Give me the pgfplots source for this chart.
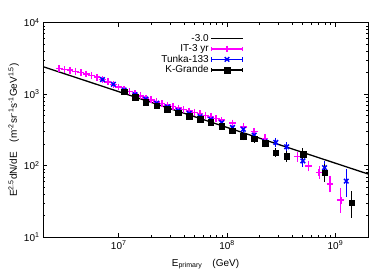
\documentclass[border=0pt]{standalone}
\usepackage{fontspec}
\setmainfont{Liberation Sans}
\usepackage{pgfplots}
\pgfplotsset{compat=1.18}
\usepackage{pgfplotstable}
\definecolor{itmag}{RGB}{255,0,255}
\definecolor{tunka}{RGB}{0,0,255}

\pgfplotstableread{
x y dp dm
2.818e6 2301 0.008 0.008
3.162e6 2223 0.008 0.008
3.548e6 2168 0.008 0.008
3.981e6 2091 0.008 0.008
4.467e6 2009 0.008 0.008
5.012e6 1917 0.008 0.008
5.623e6 1833 0.008 0.008
6.310e6 1730 0.008 0.008
7.079e6 1606 0.008 0.008
7.943e6 1490 0.008 0.008
8.913e6 1374 0.008 0.008
1.000e7 1261 0.008 0.008
1.122e7 1164 0.008 0.008
1.259e7 1091 0.008 0.008
1.413e7 1023 0.008 0.008
1.585e7 950 0.008 0.008
1.778e7 888 0.008 0.008
1.995e7 835 0.008 0.008
2.239e7 785 0.01 0.01
2.512e7 743 0.01 0.01
2.818e7 706 0.01 0.01
3.162e7 673 0.01 0.01
3.548e7 640 0.01 0.01
3.981e7 611 0.01 0.01
4.467e7 584 0.012 0.012
5.012e7 558 0.012 0.012
5.623e7 534 0.012 0.012
6.310e7 507 0.012 0.012
7.079e7 483 0.015 0.015
7.943e7 456 0.015 0.015
8.913e7 433 0.015 0.015
1.122e8 394 0.018 0.018
1.413e8 350 0.02 0.02
1.778e8 300 0.022 0.022
2.239e8 242 0.025 0.025
4.467e8 134 0.038 0.038
5.623e8 99 0.042 0.042
7.079e8 81 0.056 0.056
8.913e8 55.5 0.084 0.084
1.122e9 33 0.14 0.14
}\ittable

\pgfplotstableread{
x y dp dm
7.079e6 1606 0.01 0.01
8.913e6 1378 0.01 0.01
1.122e7 1145 0.01 0.01
1.413e7 990 0.01 0.01
1.778e7 857 0.01 0.01
2.239e7 750 0.012 0.012
2.818e7 665 0.012 0.012
3.548e7 590 0.012 0.012
4.467e7 540 0.015 0.015
5.623e7 487 0.015 0.015
7.079e7 445 0.015 0.015
8.913e7 400 0.018 0.018
1.122e8 343 0.02 0.02
1.413e8 323 0.022 0.022
1.778e8 268 0.025 0.025
2.239e8 217 0.028 0.028
2.818e8 212 0.03 0.03
3.548e8 184 0.035 0.035
5.012e8 117 0.056 0.056
7.943e8 94 0.063 0.063
1.259e9 61 0.14 0.186
}\tunkatable

\pgfplotstableread{
x y dp dm
1.122e7 1084 0.01 0.01
1.413e7 906 0.01 0.01
1.778e7 770 0.01 0.01
2.239e7 690 0.01 0.01
2.818e7 612 0.01 0.01
3.548e7 550 0.012 0.012
4.467e7 496 0.012 0.012
5.623e7 450 0.012 0.012
7.079e7 405 0.015 0.015
8.913e7 360 0.015 0.015
1.122e8 310 0.018 0.018
1.413e8 257 0.02 0.02
1.778e8 238 0.022 0.022
2.239e8 206 0.025 0.025
2.818e8 152 0.03 0.03
3.548e8 135 0.045 0.045
5.012e8 146 0.05 0.05
7.943e8 80 0.084 0.10
1.413e9 30.4 0.13 0.18
}\kgtable

\pgfplotsset{
  errleg/.style={legend image code/.code={
    \draw[#1, line width=1.1pt] (0cm,0cm) -- (1.1cm,0cm)
      (0cm,-2.2pt) -- (0cm,2.2pt) (1.1cm,-2.2pt) -- (1.1cm,2.2pt);
    \draw[##1] plot coordinates {(0.55cm,0cm)};
  }},
  lineleg/.style={legend image code/.code={
    \draw[##1] (0cm,0cm) -- (1.1cm,0cm);
  }},
  errstyle/.style={
    error bars/y dir=both, error bars/y explicit,
    error bars/error bar style={line width=1.1pt},
    error bars/error mark options={line width=1.1pt, mark size=2.3pt},
  },
}

\begin{document}
\begin{tikzpicture}
\begin{axis}[
  scale only axis, width=325pt, height=214.6pt,
  xmode=log, ymode=log,
  xmin=2e6, xmax=2e9, ymin=10, ymax=1e4,
  tick align=inside,
  major tick length=4pt, minor tick length=2pt,
  axis line style={line width=0.8pt},
  every tick/.style={black, line width=0.6pt},
  xtick={1e7,1e8,1e9},
  xticklabels={10\textsuperscript{7},10\textsuperscript{8},10\textsuperscript{9}},
  ytick={10,100,1000,10000},
  yticklabels={10\textsuperscript{1},10\textsuperscript{2},10\textsuperscript{3},10\textsuperscript{4}},
  tick label style={font=\fontsize{10}{12}\selectfont},
  label style={font=\fontsize{10}{12}\selectfont},
  xlabel={E\textsubscript{primary}\quad(GeV)},
  ylabel={E\textsuperscript{2.5}dN/dE\quad(m\textsuperscript{-2}sr\textsuperscript{-1}s\textsuperscript{-1}GeV\textsuperscript{1.5})},
  xlabel style={at={(axis description cs:0.5,-0.125)}, anchor=center},
  ylabel style={at={(axis description cs:-0.09,0.5)}, anchor=center},
  legend style={draw=none, fill=none, at={(axis description cs:0.62,0.96)}, anchor=north east,
    font=\fontsize{10}{12}\selectfont, row sep=-2.2pt, inner sep=1pt},
  legend cell align=right,
  legend plot pos=right,
]
\addplot[black, line width=1.3pt, lineleg] coordinates {(2e6,2430) (2e9,76.8)};
\addlegendentry{-3.0}

\addplot[itmag, only marks, mark=+, mark size=3.4pt, mark options={line width=1.5pt},
  errstyle, errleg=itmag]
  table[x=x, y=y, y error plus expr=\thisrow{y}*(10^(\thisrow{dp})-1),
        y error minus expr=\thisrow{y}*(1-10^(-\thisrow{dm}))] {\ittable};
\addlegendentry{IT-3 yr}

\addplot[tunka, only marks, mark=x, mark size=3.2pt, mark options={line width=1.5pt},
  errstyle, errleg=tunka]
  table[x=x, y=y, y error plus expr=\thisrow{y}*(10^(\thisrow{dp})-1),
        y error minus expr=\thisrow{y}*(1-10^(-\thisrow{dm}))] {\tunkatable};
\addlegendentry{Tunka-133}

\addplot[black, only marks, mark=square*, mark size=2.8pt,
  errstyle, errleg=black]
  table[x=x, y=y, y error plus expr=\thisrow{y}*(10^(\thisrow{dp})-1),
        y error minus expr=\thisrow{y}*(1-10^(-\thisrow{dm}))] {\kgtable};
\addlegendentry{K-Grande}
\end{axis}
\pgfresetboundingbox
\useasboundingbox ([shift={(-43pt,-39.7pt)}]current axis.south west) rectangle ([shift={(14pt,22.7pt)}]current axis.north east);
\end{tikzpicture}
\end{document}
